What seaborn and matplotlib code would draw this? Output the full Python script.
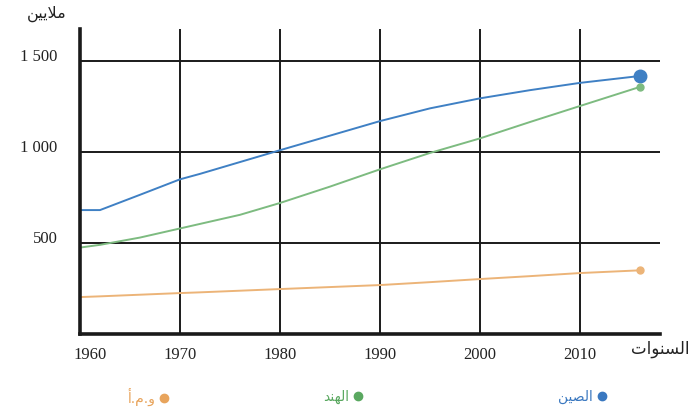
import pandas as pd
import matplotlib
matplotlib.use('Agg')
import matplotlib.pyplot as plt
import matplotlib.transforms as mtransforms
from matplotlib.lines import Line2D
import seaborn as sns

# Données (millions d'habitants)
annees = [1960, 1962, 1966, 1970, 1972, 1976, 1980, 1985, 1990, 1995, 2000, 2005, 2010, 2016]
chine = [681, 681, 765, 850, 880, 945, 1010, 1090, 1170, 1240, 1295, 1340, 1380, 1418]
inde = [475, 490, 530, 580, 605, 655, 720, 810, 905, 995, 1075, 1165, 1253, 1358]
usa = [203, 207, 216, 225, 229, 238, 247, 258, 269, 285, 302, 318, 335, 350]

pays = ['الصين', 'الهند', 'و.م.أ']
couleurs = ['#3f80c4', '#7dbb80', '#ecb478']
couleurs_legende = ['#3a78c0', '#5aa860', '#e8a45c']
taille_fin = [9, 5, 5]

yticks = [500, 1000, 1500]
yticklabels = ['500', '1 000', '1 500']
xticks = [1960, 1970, 1980, 1990, 2000, 2010]
titre_y = 'ملايين'
titre_x = 'السنوات'

# Mise en forme arabe (formes contextuelles + ordre visuel)
FORMES = {
    '\u0627': ('\uFE8D', '\uFE8E', None, None),
    '\u0623': ('\uFE83', '\uFE84', None, None),
    '\u062F': ('\uFEA9', '\uFEAA', None, None),
    '\u0648': ('\uFEED', '\uFEEE', None, None),
    '\u0644': ('\uFEDD', '\uFEDE', '\uFEDF', '\uFEE0'),
    '\u0645': ('\uFEE1', '\uFEE2', '\uFEE3', '\uFEE4'),
    '\u064A': ('\uFEF1', '\uFEF2', '\uFEF3', '\uFEF4'),
    '\u0646': ('\uFEE5', '\uFEE6', '\uFEE7', '\uFEE8'),
    '\u0633': ('\uFEB1', '\uFEB2', '\uFEB3', '\uFEB4'),
    '\u062A': ('\uFE95', '\uFE96', '\uFE97', '\uFE98'),
    '\u0635': ('\uFEB9', '\uFEBA', '\uFEBB', '\uFEBC'),
    '\u0647': ('\uFEE9', '\uFEEA', '\uFEEB', '\uFEEC'),
}


def double(c):
    return c in FORMES and FORMES[c][2] is not None


def arabe(texte):
    res = []
    i = 0
    n = len(texte)
    while i < n:
        c = texte[i]
        prec = texte[i - 1] if i > 0 else None
        lie_prec = prec is not None and double(prec)
        if c == '\u0644' and i + 1 < n and texte[i + 1] == '\u0627':
            res.append('\uFEFC' if lie_prec else '\uFEFB')
            i += 2
            continue
        if c not in FORMES:
            res.append(c)
            i += 1
            continue
        suiv = texte[i + 1] if i + 1 < n else None
        lie_suiv = double(c) and suiv is not None and suiv in FORMES
        iso, fin, ini, med = FORMES[c]
        if lie_prec and lie_suiv:
            res.append(med)
        elif lie_prec:
            res.append(fin)
        elif lie_suiv:
            res.append(ini)
        else:
            res.append(iso)
        i += 1
    return ''.join(reversed(res))


df = pd.DataFrame({
    'annee': annees * 3,
    'population': chine + inde + usa,
    'pays': [pays[0]] * len(annees) + [pays[1]] * len(annees) + [pays[2]] * len(annees),
})

sns.set_style('white')
plt.rcParams['font.family'] = ['Liberation Serif', 'DejaVu Sans']

fig = plt.figure(figsize=(6.93, 4.17), dpi=100)
ax = fig.add_axes([0.1154, 0.199, 0.837, 0.731])

sns.lineplot(data=df, x='annee', y='population', hue='pays',
             palette=dict(zip(pays, couleurs)), legend=False, ax=ax, linewidth=1.4)
for i, p in enumerate(pays):
    d = df[df['pays'] == p]
    ax.plot(d['annee'].iloc[-1], d['population'].iloc[-1], 'o',
            color=couleurs[i], ms=taille_fin[i], zorder=5)

ax.set_xlim(1960, 2018)
ax.set_ylim(0, 1675)
ax.set_xticks(xticks)
ax.set_yticks(yticks)
ax.set_yticklabels(yticklabels)
ax.set_xlabel('')
ax.set_ylabel('')
ax.grid(True, color='#1a1a1a', linewidth=1.4)
ax.set_axisbelow(True)
for s in ['top', 'right']:
    ax.spines[s].set_visible(False)
for s in ['left', 'bottom']:
    ax.spines[s].set_color('#1a1a1a')
    ax.spines[s].set_linewidth(2.6)
ax.tick_params(axis='both', length=0, labelsize=12, colors='#222222')
ax.tick_params(axis='y', pad=16)
ax.tick_params(axis='x', pad=9)

dec = mtransforms.ScaledTranslation(0, 4 / 72, fig.dpi_scale_trans)
for lab in ax.get_yticklabels():
    lab.set_transform(lab.get_transform() + dec)
dec_x = mtransforms.ScaledTranslation(7 / 72, 0, fig.dpi_scale_trans)
premier = ax.get_xticklabels()[0]
premier.set_transform(premier.get_transform() + dec_x)

fig.text(47 / 693, 1 - 14 / 417, arabe(titre_y), family=['DejaVu Sans'],
         fontsize=11.5, ha='center', va='center', color='#222222')
fig.text(690 / 693, 1 - 349 / 417, arabe(titre_x), family=['DejaVu Sans'],
         fontsize=12, ha='right', va='center', color='#222222')

# Légende : un bloc par pays, marqueur à droite du texte
positions = [608, 364, 170]
for i, p in enumerate(pays):
    h = Line2D([], [], marker='o', ls='', color=couleurs_legende[i], ms=6)
    leg = fig.legend([h], [arabe(p)], loc='center right', markerfirst=False,
                     bbox_to_anchor=(positions[i] / 693, 1 - 397 / 417),
                     frameon=False, prop={'family': ['DejaVu Sans'], 'size': 10},
                     handletextpad=0.3, handlelength=0.8, borderpad=0, borderaxespad=0)
    for t in leg.get_texts():
        t.set_color(couleurs_legende[i])

fig.savefig('out.png', dpi=100)
